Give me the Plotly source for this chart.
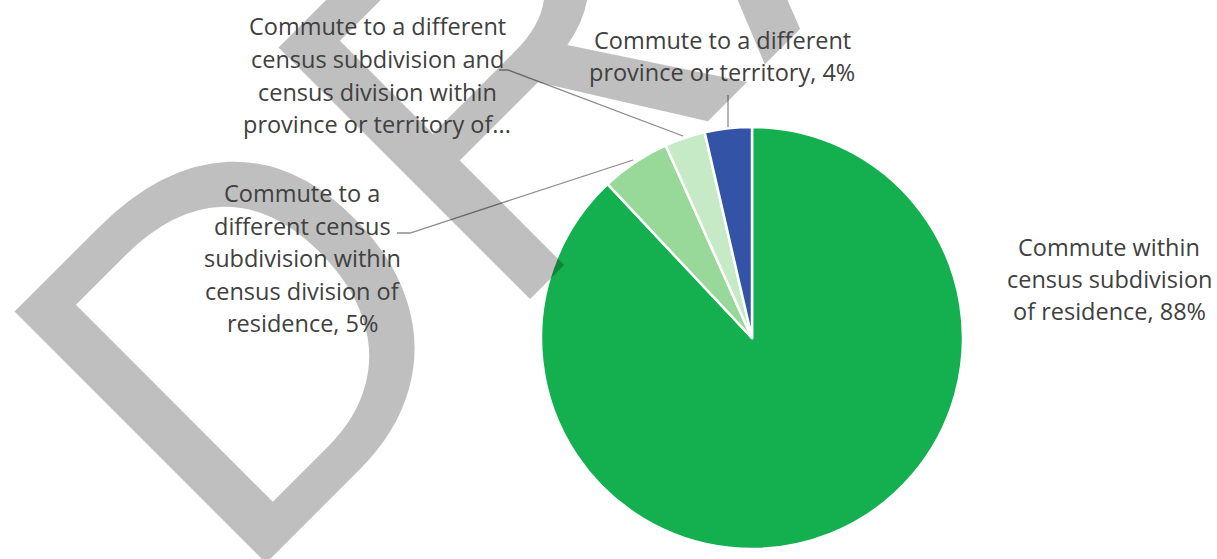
import plotly.graph_objects as go

W, H = 1217, 559

# ---- data ----
categories = [
    "Commute within<br>census subdivision<br>of residence, 88%",
    "Commute to a<br>different census<br>subdivision within<br>census division of<br>residence, 5%",
    "Commute to a different<br>census subdivision and<br>census division within<br>province or territory of...",
    "Commute to a different<br>province or territory, 4%",
]
values = [88.0, 5.3, 3.1, 3.6]
colors = ["#14b050", "#98d898", "#c6eac6", "#3353a6"]
watermark_text = "DRAFT"

# ---- layout helpers (pixel -> paper) ----
def px(x):
    return x / W

def py(y):
    return 1 - y / H

cx, cy, r = 752, 338, 211

fig = go.Figure(go.Pie(
    labels=categories,
    values=values,
    marker=dict(colors=colors, line=dict(color="white", width=2.5)),
    sort=False,
    direction="clockwise",
    rotation=0,
    textinfo="none",
    hoverinfo="label+percent",
    showlegend=False,
    domain=dict(x=[px(cx - r), px(cx + r)], y=[py(cy + r), py(cy - r)]),
))

annotations = []
# watermark first (bottom-most annotation)
annotations.append(dict(
    text=watermark_text, x=px(719), y=py(-143), xref="paper", yref="paper",
    xanchor="center", yanchor="middle", showarrow=False, textangle=-45,
    font=dict(family="Liberation Sans, Arial", size=517, color="rgba(0,0,0,0.25)"),
))

# label layout: (center x, first line center y, line spacing)
label_pos = [
    (1109, 247, 32.0),
    (302, 193, 32.6),
    (377, 26, 32.8),
    (722, 40, 31.5),
]
for lab, (lx, ly, dy) in zip(categories, label_pos):
    for i, line in enumerate(lab.split("<br>")):
        annotations.append(dict(
            text=line, x=px(lx), y=py(ly + i * dy), xref="paper", yref="paper",
            xanchor="center", yanchor="middle", showarrow=False,
            font=dict(family="Open Sans", size=23.5, color="#404040"),
        ))

leaders = [
    [(397, 233), (410, 233), (633, 160)],
    [(499, 70), (508, 70), (683, 136)],
    [(728, 95), (728, 127)],
]
shapes = []
for pts in leaders:
    d = "M " + " L ".join(f"{px(x)},{py(y)}" for x, y in pts)
    shapes.append(dict(type="path", path=d, xref="paper", yref="paper",
                       line=dict(color="#8c8c8c", width=1.3)))

fig.update_layout(
    width=W, height=H,
    margin=dict(l=0, r=0, t=0, b=0),
    paper_bgcolor="white", plot_bgcolor="white",
    annotations=annotations, shapes=shapes,
)

fig.write_html("out.html")
